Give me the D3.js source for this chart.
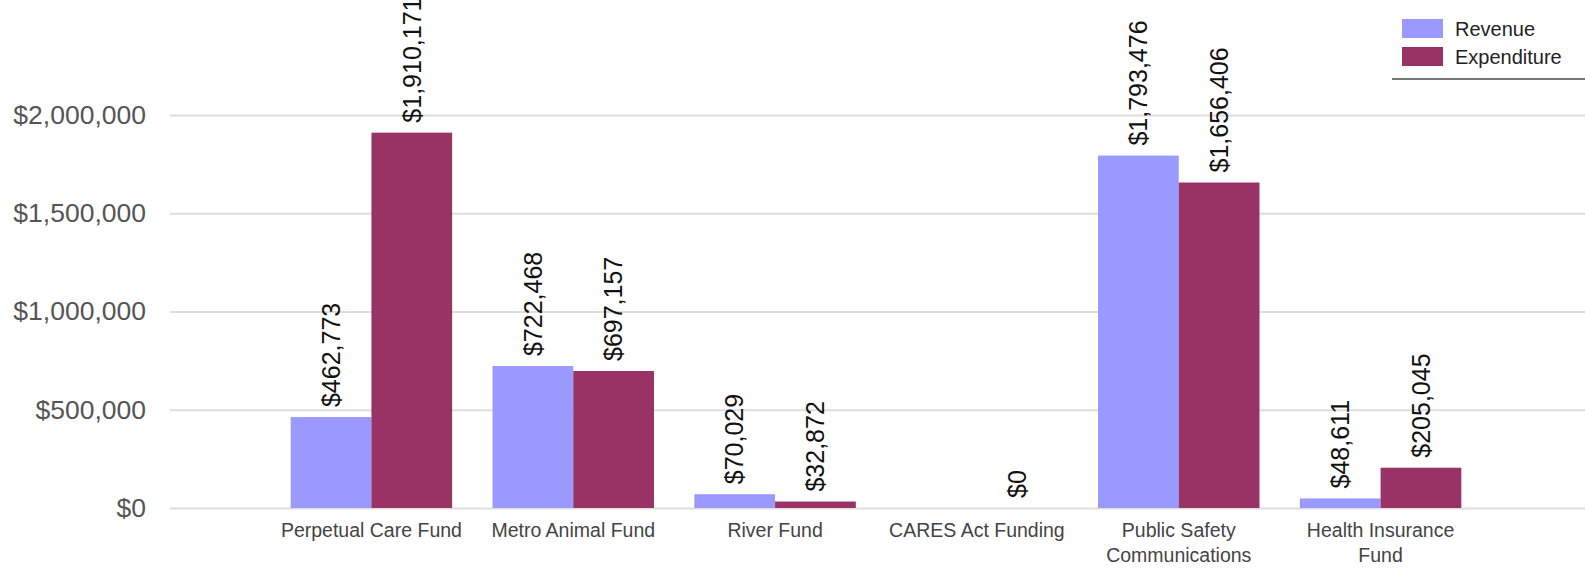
<!DOCTYPE html>
<html>
<head>
<meta charset="utf-8">
<script src="https://cdn.jsdelivr.net/npm/d3@7"></script>
<style>
  body { margin: 0; background: #fff; }
  svg { display: block; font-family: "Liberation Sans", Arial, sans-serif; }
</style>
</head>
<body>
<div id="chart-area"></div>
<script>
// data
const categories = ["Perpetual Care Fund", "Metro Animal Fund", "River Fund", "CARES Act Funding", "Public Safety Communications", "Health Insurance Fund"];
const seriesNames = ["Revenue", "Expenditure"];
const revenue = [462773, 722468, 70029, null, 1793476, 48611];
const expenditure = [1910171, 697157, 32872, 0, 1656406, 205045];
const yTicks = [0, 500000, 1000000, 1500000, 2000000];
const colors = ["#9999ff", "#993366"];

const W = 1585, H = 570;
const gridLeft = 170, gridRight = 1585;
const bandLeft = 270.5, bandRight = 1481.5;
const yTop = 115, yBottom = 508;

const svg = d3.select("#chart-area")
	.append("svg")
	.attr("width", W)
	.attr("height", H);

const x = d3.scaleBand().domain(categories).range([bandLeft, bandRight]).paddingInner(0.2).paddingOuter(0.1);
const xs = d3.scaleBand().domain(seriesNames).range([0, x.bandwidth()]);
const y = d3.scaleLinear().domain([0, 2000000]).range([yBottom, yTop]);

// y axis + grid
const yAxisCall = d3.axisLeft(y)
	.tickValues(yTicks)
	.tickSize(-(gridRight - gridLeft))
	.tickPadding(24)
	.tickFormat(d3.format("$,"));
const yAxis = svg.append("g")
	.attr("class", "y-axis")
	.attr("transform", `translate(${gridLeft}, 0)`)
	.call(yAxisCall);
yAxis.select(".domain").remove();
yAxis.selectAll("line").attr("stroke", "#dedede").attr("stroke-width", 2);
yAxis.selectAll("text")
	.attr("font-size", "26.5px")
	.attr("fill", "#555")
	.attr("font-family", "'Liberation Sans', Arial, sans-serif");

// bars
const rows = categories.map((c, i) => ({ cat: c, values: [revenue[i], expenditure[i]] }));
const groups = svg.selectAll(".group").data(rows).enter()
	.append("g")
	.attr("class", "group")
	.attr("transform", d => `translate(${x(d.cat)}, 0)`);

const cells = groups.selectAll(".cell")
	.data(d => d.values.map((v, j) => ({ name: seriesNames[j], v: v, j: j })).filter(e => e.v !== null))
	.enter();

cells.append("rect")
	.attr("x", d => xs(d.name))
	.attr("y", d => y(d.v))
	.attr("width", xs.bandwidth())
	.attr("height", d => y(0) - y(d.v))
	.attr("fill", d => colors[d.j]);

cells.append("text")
	.attr("transform", d => `translate(${xs(d.name) + xs.bandwidth() / 2}, ${y(d.v) - 10}) rotate(-90)`)
	.attr("dy", "0.35em")
	.attr("text-anchor", "start")
	.attr("font-size", "25px")
	.attr("fill", "#111")
	.text(d => d3.format("$,")(d.v));

// x labels
const xLabels = svg.append("g").attr("class", "x-axis");
categories.forEach(c => {
	const t = xLabels.append("text")
		.attr("x", x(c) + x.bandwidth() / 2)
		.attr("y", 530)
		.attr("text-anchor", "middle")
		.attr("font-size", "19.5px")
		.attr("fill", "#444");
	// wrap words into lines
	const words = c.split(" ");
	let lines = [], line = [];
	words.forEach(w => {
		line.push(w);
		t.text(line.join(" "));
		if (t.node().getComputedTextLength() > 190 && line.length > 1) {
			line.pop();
			lines.push(line.join(" "));
			line = [w];
		}
	});
	lines.push(line.join(" "));
	t.text(null);
	lines.forEach((l, i) => {
		t.append("tspan")
			.attr("x", x(c) + x.bandwidth() / 2)
			.attr("y", 530 + i * 25)
			.attr("dy", "0.35em")
			.text(l);
	});
});

// legend
const legend = svg.append("g").attr("class", "legend");
seriesNames.forEach((s, i) => {
	legend.append("rect")
		.attr("x", 1402)
		.attr("y", 19 + i * 28)
		.attr("width", 41)
		.attr("height", 19)
		.attr("fill", colors[i]);
	legend.append("text")
		.attr("x", 1455)
		.attr("y", 28.5 + i * 28)
		.attr("dy", "0.35em")
		.attr("font-size", "20px")
		.attr("fill", "#222")
		.text(s);
});
legend.append("line")
	.attr("x1", 1392).attr("x2", 1585)
	.attr("y1", 79).attr("y2", 79)
	.attr("stroke", "#777")
	.attr("stroke-width", 2);
</script>
</body>
</html>
